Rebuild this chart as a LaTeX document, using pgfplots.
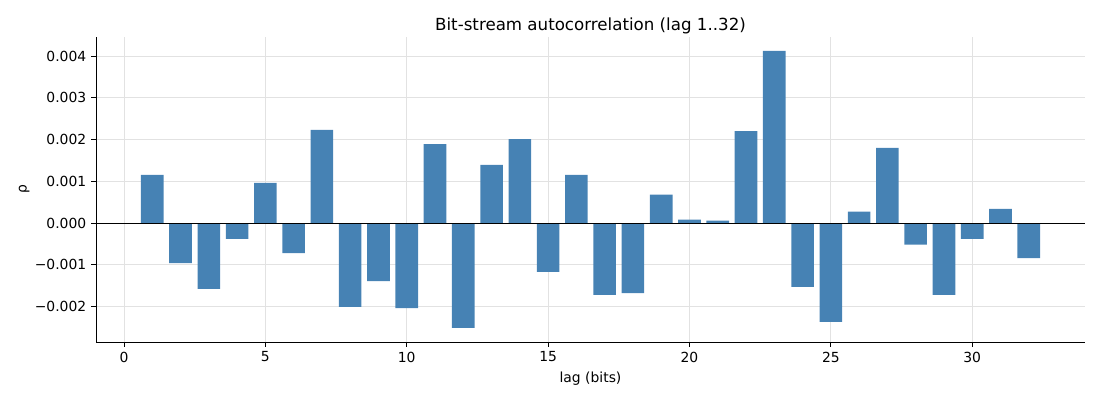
\documentclass[border=0pt]{standalone}
\usepackage{pgfplots}
\pgfplotsset{compat=1.18}
\usepackage{fontspec}
\setmainfont{DejaVu Sans}
\definecolor{barblue}{HTML}{4682B4}
\definecolor{gridgray}{HTML}{E2E2E2}
\pgfplotstableread{
lag rho
1 0.00115
2 -0.00096
3 -0.00158
4 -0.00038
5 0.00096
6 -0.00072
7 0.00223
8 -0.00201
9 -0.00139
10 -0.00204
11 0.00189
12 -0.00251
13 0.00139
14 0.00201
15 -0.00117
16 0.00115
17 -0.00172
18 -0.00168
19 0.00068
20 0.00008
21 0.000055
22 0.00220
23 0.00412
24 -0.00153
25 -0.00237
26 0.00027
27 0.00180
28 -0.00052
29 -0.00172
30 -0.00038
31 0.00034
32 -0.00084
}\datatable
\begin{document}
\begin{tikzpicture}
\useasboundingbox (0,0) rectangle (792pt,288pt);
\begin{axis}[
  at={(69.12pt,41.76pt)}, anchor=south west,
  scale only axis, width=712.1pt, height=219.6pt,
  xmin=-0.99, xmax=33.99, ymin=-0.00285, ymax=0.004455,
  axis x line*=bottom, axis y line*=left,
  axis line style={line width=0.6pt, -},
  xtick={0,5,...,30},
  ytick={-0.002,-0.001,0,0.001,0.002,0.003,0.004},
  yticklabels={−0.002,−0.001,0.000,0.001,0.002,0.003,0.004},
  scaled y ticks=false,
  /pgf/number format/assume math mode=true,
  tick style={line width=0.6pt, black},
  tick align=outside, major tick length=3.5pt,
  tick label style={font=\fontsize{10}{12}\selectfont},
  grid=major, major grid style={gridgray, line width=0.6pt},
  title={Bit-stream autocorrelation (lag 1..32)},
  title style={font=\fontsize{12}{14}\selectfont, yshift=-7pt},
  xlabel={lag (bits)}, ylabel={ρ},
  label style={font=\fontsize{10}{12}\selectfont},
  ylabel style={yshift=-3pt},
  xlabel style={yshift=0pt},
]
\addplot[ybar, bar width=0.8, fill=barblue, draw=none, bar shift=0pt] table[x=lag, y=rho] {\datatable};
\draw[black, line width=0.6pt] (axis cs:-0.99,0) -- (axis cs:33.99,0);
\end{axis}
\end{tikzpicture}
\end{document}
